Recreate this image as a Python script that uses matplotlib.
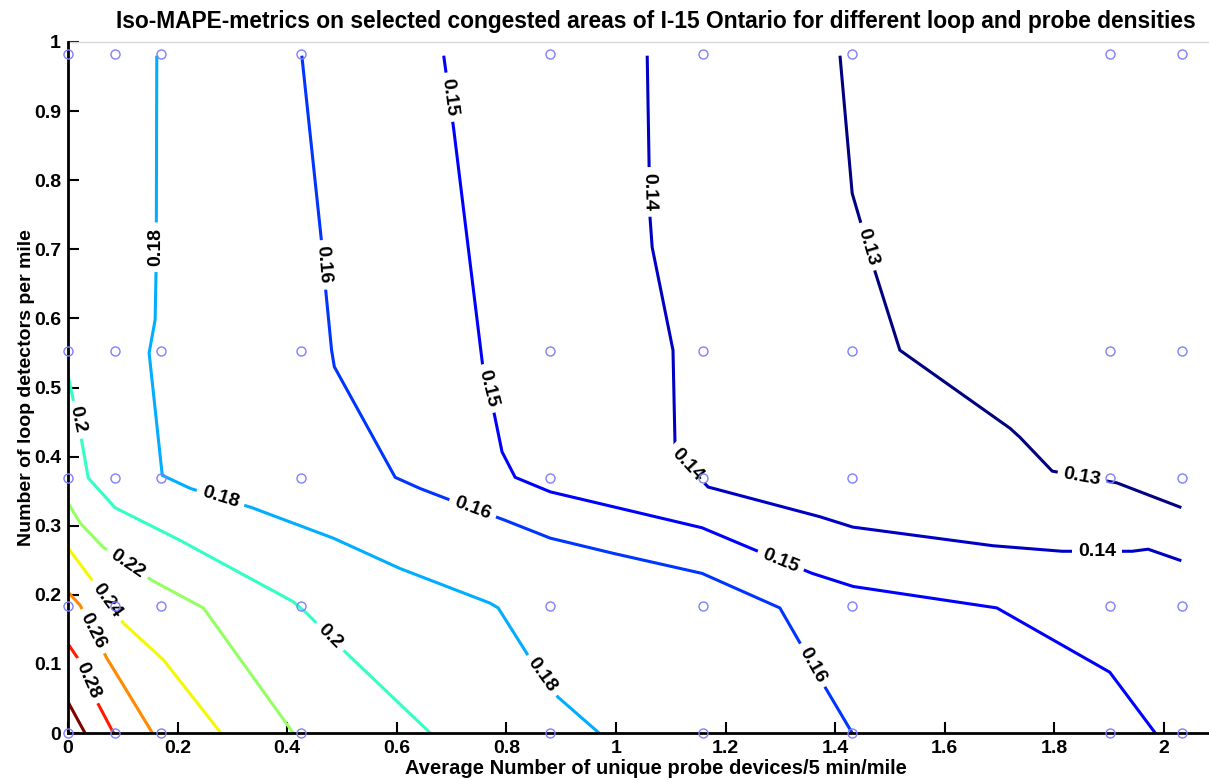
import numpy as np
import matplotlib
matplotlib.use("Agg")
import matplotlib.pyplot as plt
from matplotlib.colors import Normalize
from matplotlib.ticker import FormatStrFormatter

plt.rcParams['font.family'] = ['Liberation Sans', 'DejaVu Sans']
plt.rcParams['font.weight'] = 'bold'

# sample points (probe density, loop density)
probe_x = [0, 0.086, 0.17, 0.425, 0.88, 1.158, 1.431, 1.901, 2.033]
loop_y = [0, 0.184, 0.369, 0.553, 0.983]

# iso-MAPE lines
x_013 = [1.409, 1.431, 1.473, 1.518, 1.719, 1.737, 1.796, 1.914, 2.029]
y_013 = [0.978, 0.781, 0.667, 0.554, 0.441, 0.428, 0.379, 0.362, 0.327]
x_014 = [1.057, 1.062, 1.066, 1.104, 1.108, 1.168, 1.372, 1.432, 1.688, 1.814, 1.942, 1.971, 2.029]
y_014 = [0.978, 0.747, 0.703, 0.554, 0.407, 0.356, 0.313, 0.298, 0.271, 0.263, 0.263, 0.266, 0.250]
x_015 = [0.686, 0.704, 0.757, 0.777, 0.792, 0.816, 0.880, 1.157, 1.250, 1.358, 1.433, 1.695, 1.901, 1.984]
y_015 = [0.978, 0.873, 0.530, 0.465, 0.407, 0.370, 0.349, 0.297, 0.266, 0.231, 0.212, 0.181, 0.088, 0.0]
x_016 = [0.427, 0.462, 0.469, 0.481, 0.486, 0.597, 0.642, 0.688, 0.797, 0.880, 0.995, 1.157, 1.299, 1.336, 1.381, 1.431]
y_016 = [0.978, 0.716, 0.651, 0.554, 0.530, 0.370, 0.354, 0.340, 0.308, 0.282, 0.260, 0.231, 0.181, 0.130, 0.067, 0.0]
x_018 = [0.162, 0.161, 0.159, 0.148, 0.172, 0.223, 0.336, 0.484, 0.606, 0.770, 0.785, 0.839, 0.894, 0.969]
y_018 = [0.978, 0.682, 0.598, 0.550, 0.373, 0.354, 0.326, 0.282, 0.238, 0.188, 0.181, 0.113, 0.052, 0.0]
x_020 = [0.0, 0.024, 0.037, 0.086, 0.204, 0.411, 0.436, 0.509, 0.661]
y_020 = [0.518, 0.427, 0.369, 0.326, 0.279, 0.190, 0.173, 0.115, 0.0]
x_022 = [0.0, 0.022, 0.064, 0.153, 0.247, 0.411]
y_022 = [0.333, 0.304, 0.269, 0.221, 0.181, 0.0]
x_024 = [0.0, 0.046, 0.101, 0.174, 0.279]
y_024 = [0.268, 0.219, 0.159, 0.106, 0.0]
x_026 = [0.0, 0.022, 0.071, 0.095, 0.154]
y_026 = [0.204, 0.185, 0.108, 0.077, 0.0]
x_028 = [0.0, 0.018, 0.053, 0.083]
y_028 = [0.129, 0.108, 0.045, 0.0]
x_030 = [0.0, 0.031]
y_030 = [0.045, 0.0]

isolines = [(0.13, x_013, y_013), (0.14, x_014, y_014), (0.15, x_015, y_015),
            (0.16, x_016, y_016), (0.18, x_018, y_018), (0.20, x_020, y_020),
            (0.22, x_022, y_022), (0.24, x_024, y_024), (0.26, x_026, y_026),
            (0.28, x_028, y_028), (0.30, x_030, y_030)]

# where the inline labels sit (level, x, y)
label_pos = [(0.13, 1.451, 0.702), (0.13, 1.850, 0.368),
             (0.14, 1.058, 0.783), (0.14, 1.120, 0.380), (0.14, 1.878, 0.262),
             (0.15, 0.695, 0.920), (0.15, 0.764, 0.498), (0.15, 1.299, 0.246),
             (0.16, 0.460, 0.677), (0.16, 0.737, 0.322), (0.16, 1.354, 0.096),
             (0.18, 0.161, 0.703), (0.18, 0.277, 0.337), (0.18, 0.861, 0.081),
             (0.20, 0.015, 0.453), (0.20, 0.475, 0.137),
             (0.22, 0.104, 0.240), (0.24, 0.068, 0.190),
             (0.26, 0.040, 0.145), (0.28, 0.031, 0.074)]

fig = plt.figure(figsize=(12.09, 7.8), dpi=100)
ax = fig.add_axes([68/1209., 47/780., 1176/1209., 691/780.])
ax.set_xlim(0, 1176/548.)
ax.set_ylim(0, 1)

norm = Normalize(0.13, 0.30)
for lev, xs, ys in isolines :
    ax.plot(xs, ys, color=plt.cm.jet(norm(lev)), lw=2.2, zorder=2, solid_joinstyle='miter')

def place_label(xs, ys, px, py, txt) :
    P = ax.transData.transform(np.column_stack([xs, ys]))
    q = ax.transData.transform((px, py))
    best = None
    for i in range(len(P)-1) :
        a, b = P[i], P[i+1]
        d = b - a
        t = np.clip(np.dot(q-a, d)/np.dot(d, d), 0, 1)
        p = a + t*d
        dist = np.hypot(*(q-p))
        if best is None or dist < best[0] :
            best = (dist, p, d)
    _, p, d = best
    ang = np.degrees(np.arctan2(d[1], d[0]))
    if ang > 90 : ang -= 180
    if ang <= -90 : ang += 180
    xd, yd = ax.transData.inverted().transform(p)
    ax.text(xd, yd, txt, rotation=ang, rotation_mode='anchor', ha='center', va='center',
            fontsize=14, fontweight='bold', zorder=3,
            bbox=dict(boxstyle='square,pad=0.3', fc='white', ec='none'))

for lev, px, py in label_pos :
    for l, xs, ys in isolines :
        if l == lev :
            place_label(xs, ys, px, py, '%g' % lev)

gx, gy = np.meshgrid(probe_x, loop_y)
ax.plot(gx.ravel(), gy.ravel(), 'o', mfc='none', mec='#8080ff', ms=6.5, mew=1, zorder=5, clip_on=False)

ax.set_xticks(np.arange(0, 2.01, 0.2))
ax.set_yticks(np.arange(0, 1.01, 0.1))
ax.xaxis.set_major_formatter(FormatStrFormatter('%g'))
ax.yaxis.set_major_formatter(FormatStrFormatter('%g'))
ax.tick_params(direction='in', length=8, width=1.5, labelsize=14, pad=5,
               top=False, right=False)
for s in ['left', 'bottom'] :
    ax.spines[s].set_linewidth(2)
    ax.spines[s].set_zorder(4)
ax.spines['top'].set_color('#d8d8d8')
ax.spines['top'].set_linewidth(1)
ax.spines['right'].set_visible(False)

ax.set_title('Iso-MAPE-metrics on selected congested areas of I-15 Ontario for different loop and probe densities',
             fontsize=16.4, fontweight='bold', pad=10)
ax.set_xlabel('Average Number of unique probe devices/5 min/mile', fontsize=14.5, fontweight='bold', labelpad=1.5)
ax.set_ylabel('Number of loop detectors per mile', fontsize=14, fontweight='bold', labelpad=-1)

fig.savefig('out.png', dpi=100)
